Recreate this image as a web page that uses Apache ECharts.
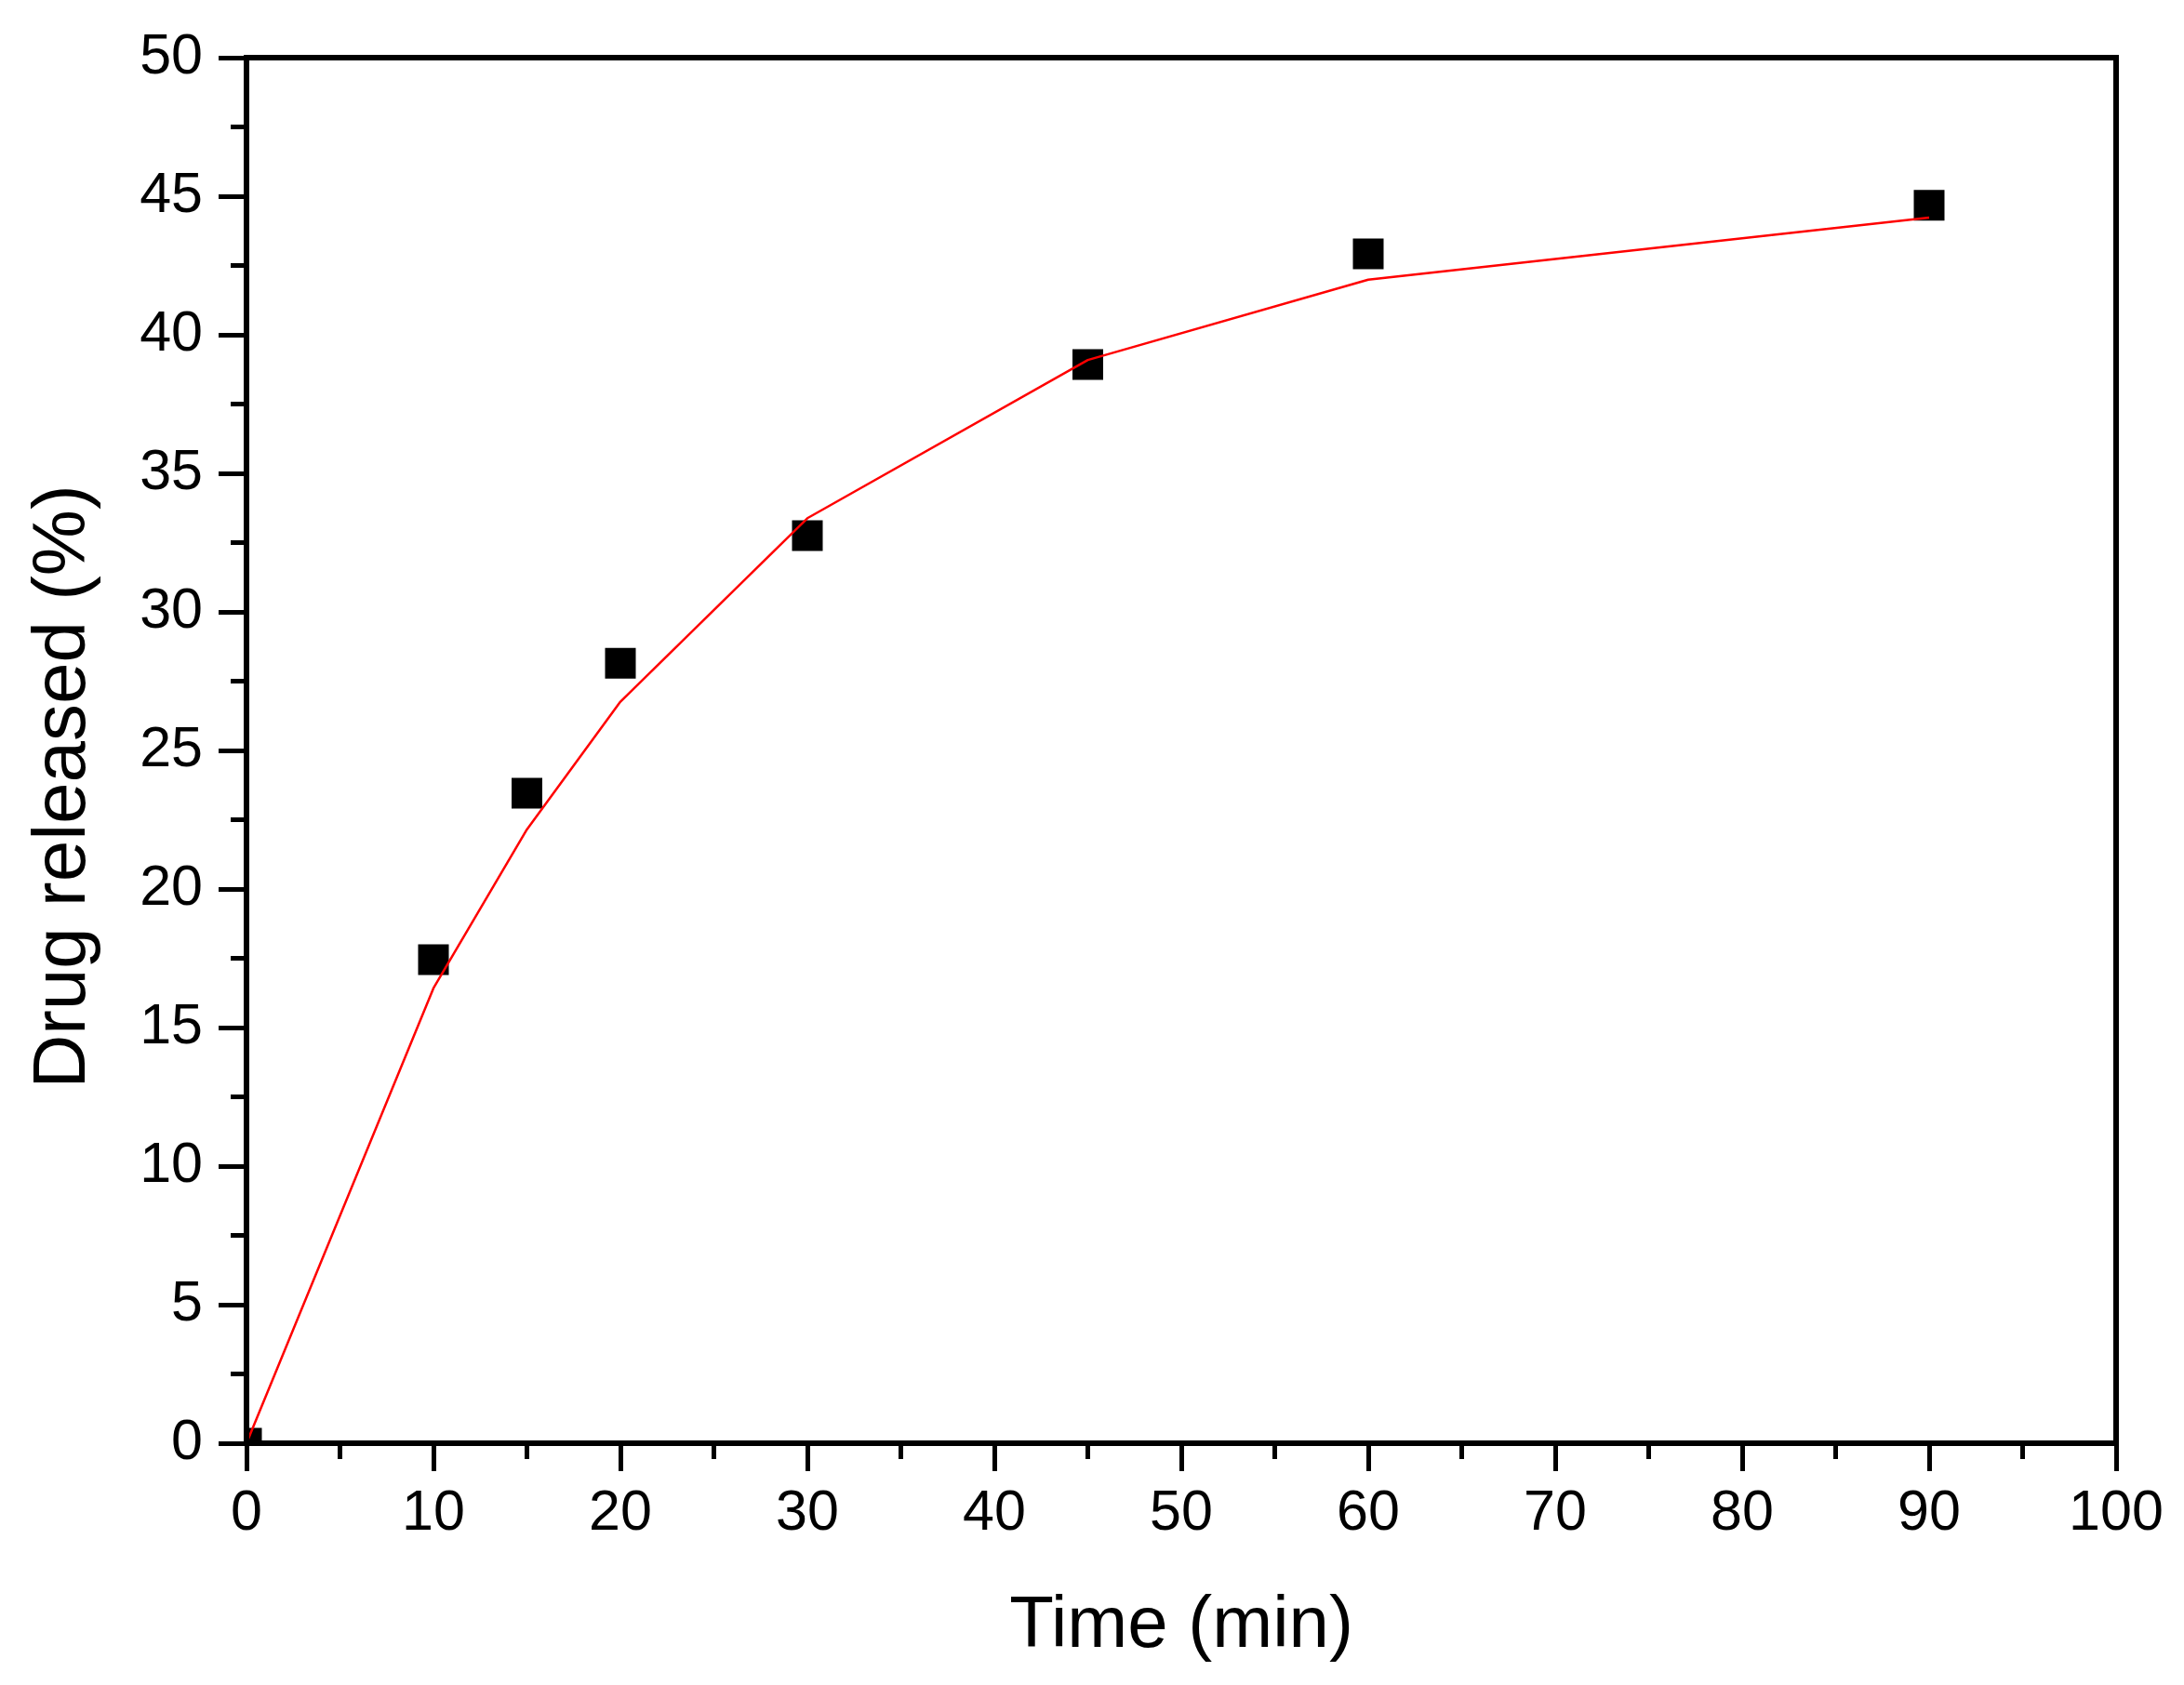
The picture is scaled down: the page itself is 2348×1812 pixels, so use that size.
<!DOCTYPE html>
<html lang="en">
<head>
  <meta charset="UTF-8">
  <title>Drug release</title>
  <style>
    html, body { margin: 0; padding: 0; background: #fff; }
    #main { width: 2348px; height: 1812px; }
  </style>
</head>
<body>
  <div id="main"></div>
  <script src="https://cdn.jsdelivr.net/npm/echarts@6/dist/echarts.min.js"></script>
  <script>
    // sampling times (min)
    const timeMin = [0, 10, 15, 20, 30, 45, 60, 90];
    // measured release (%), black squares
    const releasedMeasured = [0, 17.45, 23.46, 28.15, 32.75, 38.93, 42.92, 44.67];
    // fitted curve (%), red line
    const releasedFit = [0, 16.42, 22.15, 26.76, 33.38, 39.09, 41.99, 44.23];

    const font = "'Liberation Sans', Arial, sans-serif";

    window.onload = function () {
      let myChart = echarts.init(document.getElementById('main'));

      const measured = timeMin.map((t, i) => [t, releasedMeasured[i]]);
      const fit = timeMin.map((t, i) => [t, releasedFit[i]]);

      const axisCommon = {
        z: 5,
        axisLine: { show: true, onZero: false, lineStyle: { color: '#000', width: 6 } },
        axisTick: { show: true, inside: false, length: 30, lineStyle: { color: '#000', width: 5 } },
        minorTick: { show: true, splitNumber: 2, length: 17, lineStyle: { color: '#000', width: 5 } },
        splitLine: { show: false },
        minorSplitLine: { show: false }
      };

      let option = {
        backgroundColor: '#fff',
        animation: false,
        grid: {
          left: 265, right: 73, top: 62, bottom: 260,
          show: true, borderColor: '#000', borderWidth: 6,
          outerBoundsMode: 'none'
        },
        xAxis: Object.assign({}, axisCommon, {
          type: 'value', min: 0, max: 100, interval: 10,
          name: 'Time (min)', nameLocation: 'middle', nameGap: 158,
          nameTextStyle: { fontFamily: font, fontSize: 78, color: '#000' },
          axisLabel: { margin: 46, fontFamily: font, fontSize: 61, color: '#000' }
        }),
        yAxis: Object.assign({}, axisCommon, {
          type: 'value', min: 0, max: 50, interval: 5,
          name: 'Drug released (%)', nameLocation: 'middle', nameGap: 156,
          nameTextStyle: { fontFamily: font, fontSize: 80, color: '#000', padding: [0, 78, 0, 0] },
          axisLabel: { margin: 47, fontFamily: font, fontSize: 61, color: '#000' }
        }),
        series: [
          {
            type: 'line',
            data: fit,
            z: 2,
            symbol: 'none',
            lineStyle: { color: '#ff0000', width: 2.5 }
          },
          {
            type: 'custom',
            data: measured,
            z: 1,
            clip: true,
            encode: { x: 0, y: 1 },
            renderItem: function (params, api) {
              const p = api.coord([api.value(0), api.value(1)]);
              return {
                type: 'rect',
                shape: { x: p[0] - 16.5, y: p[1] - 16.5, width: 33, height: 33 },
                style: { fill: '#000' }
              };
            }
          }
        ]
      };
      myChart.setOption(option);
    };
  </script>
</body>
</html>
